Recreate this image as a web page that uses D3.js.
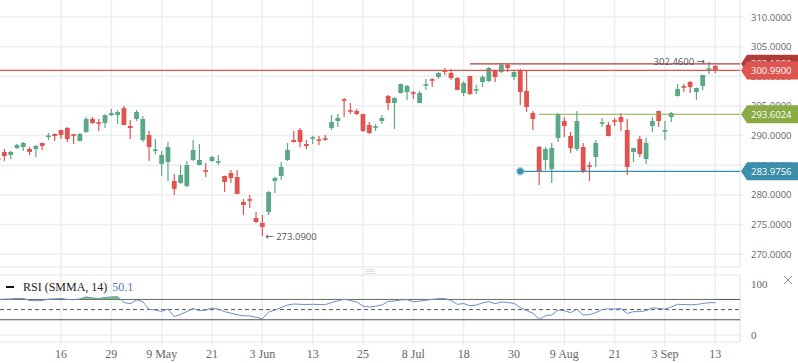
<!DOCTYPE html>
<html>
<head>
<meta charset="utf-8">
<script src="https://cdn.jsdelivr.net/npm/d3@7"></script>
<style>
  body { margin: 0; background: #fff; }
  svg { display: block; }
</style>
</head>
<body>
<div id="chart"></div>
<script>
// Data (SPY daily, 2019)
const opens = [286.10,287.24,286.73,287.91,288.08,287.74,287.74,288.75,289.85,290.27,
  290.94,291.28,290.15,289.09,290.61,292.80,292.17,292.12,293.47,293.47,
  294.65,291.62,292.80,289.26,290.10,287.50,285.21,285.55,282.35,282.01,
  281.50,285.89,285.04,284.08,285.72,285.50,283.19,283.69,283.02,278.80,
  279.20,276.11,275.26,277.12,282.35,283.19,285.89,289.26,290.94,288.58,
  289.55,289.30,289.48,291.28,292.46,296.05,294.20,294.15,293.64,291.79,
  291.40,292.46,296.68,295.50,297.18,297.35,297.23,295.50,298.48,299.43,
  299.88,301.06,300.56,299.71,297.18,300.05,297.65,299.04,299.21,301.06,
  300.73,301.91,299.88,301.06,297.52,293.81,288.08,285.89,284.37,289.60,
  292.46,289.93,287.74,288.08,284.92,286.39,292.07,291.79,292.51,293.13,
  290.94,287.24,289.43,286.05,291.62,294.15,290.73,293.13,296.68,298.25,
  299.04,297.35,298.37,301.18,301.74]
const highs = [286.30,287.74,287.40,288.58,288.92,288.08,288.42,288.85,290.44,290.35,
  291.00,291.45,290.27,290.44,293.13,293.13,292.80,293.55,294.48,294.31,
  294.99,292.63,294.31,293.30,290.78,289.43,287.40,288.92,283.53,285.04,
  285.72,289.26,288.58,285.38,286.56,286.73,283.25,284.20,284.20,279.31,
  279.98,277.12,276.61,280.66,283.02,285.55,288.75,290.78,291.28,289.26,
  289.93,289.93,290.10,293.47,293.64,296.34,295.49,294.48,293.70,292.29,
  291.96,293.47,296.85,296.51,298.75,298.53,297.52,297.52,299.55,299.71,
  300.73,301.40,301.23,299.88,299.21,300.10,298.53,300.22,301.57,301.10,
  302.24,302.07,301.06,301.23,301.06,294.15,288.25,288.08,288.75,293.81,
  293.13,290.61,294.15,288.75,285.55,289.26,292.97,292.29,292.97,293.81,
  292.80,287.95,289.93,289.60,293.13,294.20,292.46,293.98,298.70,298.70,
  299.21,298.10,300.25,302.46,301.91]
const lows = [285.80,285.72,286.05,287.74,287.40,286.73,286.39,287.57,289.26,289.09,
  289.43,288.92,288.58,289.05,290.44,291.96,290.78,291.28,293.30,291.96,
  291.75,289.43,292.46,288.92,285.72,286.90,283.19,282.35,279.98,281.84,
  281.33,285.72,285.00,283.02,285.55,285.04,280.49,282.01,280.10,276.61,
  277.79,275.26,273.09,276.61,280.32,282.51,285.72,288.85,288.08,287.74,
  288.58,288.42,289.09,290.94,291.45,293.13,293.64,293.47,290.61,290.27,
  290.78,291.96,294.31,291.11,297.10,296.00,296.17,295.45,297.69,298.20,
  299.55,300.22,299.38,297.65,296.68,296.85,297.02,298.20,299.04,299.04,
  300.56,300.73,299.38,295.16,293.98,290.94,281.67,284.20,282.01,288.92,
  289.76,287.07,287.40,283.69,282.35,284.71,291.45,289.90,291.62,290.78,
  283.36,285.55,286.39,285.21,290.61,291.45,289.26,292.29,296.60,297.35,
  297.18,296.00,297.69,300.39,300.56]
const closes = [286.00,286.56,287.24,288.42,288.75,287.24,288.25,288.25,289.93,289.93,
  290.10,289.43,290.05,290.27,292.80,292.12,292.07,293.47,293.81,293.98,
  291.79,291.28,293.98,292.80,288.08,287.57,286.73,288.08,281.00,283.36,
  285.04,287.57,285.89,283.98,286.39,285.60,282.18,282.85,280.15,278.30,
  279.10,275.43,274.59,280.49,282.85,284.71,287.57,288.92,288.92,288.25,
  289.65,289.20,289.38,292.29,292.97,295.95,294.10,293.64,290.78,290.44,
  291.50,292.97,295.50,296.34,298.70,298.37,297.13,297.18,298.58,299.33,
  300.56,300.73,299.71,297.69,298.87,297.02,297.75,299.88,301.40,299.88,
  301.91,301.40,300.73,297.35,294.82,292.80,284.03,287.74,287.91,293.64,
  291.62,287.91,292.46,284.03,284.82,288.75,292.17,289.93,292.41,292.29,
  284.71,287.91,286.90,288.75,292.46,292.46,290.83,293.81,297.86,298.15,
  298.20,298.03,300.22,301.28,300.99]
const rsiValues = [70,70.5,71,72,72,68,67.5,68,70.5,71,
  72,70,69.5,71,75,73,72,74,75,75.5,
  64,61.6,69,65.6,50.6,49,46.5,51,36,40.7,
  46,52.5,48,49,53,51,46,43,40,38,
  37.5,35,32,45,49,54,59,61,60.4,60,
  60.4,60,59.7,64,67,70.3,68,65,57,55,
  56.5,59,66,67,69,69.5,65.6,66.5,68.5,70,
  71.5,71.5,68,60.4,62,57.7,59,63,65.6,61.5,
  65,64,62.3,54,48,43,31,38,39.4,49,
  48,44,50.6,39.4,40,44,50,51.5,51,52,
  42.5,46,46,48,53.5,52.5,51,55,60.4,60,
  59.5,60,62,63.6,63.6]

const tickIndex = [10, 18, 26, 34, 42, 50, 58, 66, 74, 82, 90, 98, 106, 114]
const tickLabels = ['16', '29', '9 May', '21', '3 Jun', '13', '25', '8 Jul', '18', '30', '9 Aug', '21', '3 Sep', '13']
const priceTicks = [270, 275, 280, 285, 290, 295, 300, 305, 310]
const rsiTicks = [0, 100]

// Levels drawn on chart
const levelPrices = [302.10, 293.6024, 283.9756]
const levelStart = [75, 86, 83]
const levelLabels = ['302.1000', '293.6024', '283.9756']
const lastClose = 300.99
const highNote = 302.46
const lowNote = 273.09
const rsiLast = '50.1'

// Colors
const upColor = '#5aa886'
const downColor = '#e05450'
const gridColor = '#eceff2'
const levelColors = ['#b03c3a', '#8aab45', '#3b8fab']
const closeColor = '#e05450'
const rsiColor = '#6a8fc6'
const textColor = '#666'

// Dimensions
const width = 798
const height = 363
const plotRight = 740
const pricePaneBottom = 267
const rsiPaneTop = 275
const rsiPaneBottom = 342

const svg = d3.select('#chart')
  .append('svg')
  .attr('width', width)
  .attr('height', height)
  .style('font-family', 'Open Sans, sans-serif')

svg.append('rect').attr('width', width).attr('height', height).attr('fill', '#fff')

const x = d3.scaleLinear().domain([0, 114]).range([-1.9, 715.3])
const y = d3.scaleLinear().domain([270, 310]).range([254.2, 17])
const yRsi = d3.scaleLinear().domain([0, 100]).range([335, 284.2])

// Grid
svg.append('g')
  .selectAll('line')
  .data(tickIndex)
  .join('line')
  .attr('x1', d => x(d)).attr('x2', d => x(d))
  .attr('y1', 0).attr('y2', rsiPaneBottom + 3)
  .attr('stroke', gridColor).attr('stroke-width', 1.5)

svg.append('g')
  .selectAll('line')
  .data(priceTicks)
  .join('line')
  .attr('x1', 0).attr('x2', plotRight + 4)
  .attr('y1', d => y(d)).attr('y2', d => y(d))
  .attr('stroke', gridColor).attr('stroke-width', 1.5)

// Pane borders
svg.append('line').attr('x1', 0).attr('x2', plotRight).attr('y1', pricePaneBottom).attr('y2', pricePaneBottom)
  .attr('stroke', '#e3e6e9').attr('stroke-width', 1)
svg.append('line').attr('x1', 0).attr('x2', plotRight).attr('y1', rsiPaneTop).attr('y2', rsiPaneTop)
  .attr('stroke', '#e3e6e9').attr('stroke-width', 1)
svg.append('line').attr('x1', 0).attr('x2', plotRight).attr('y1', rsiPaneBottom).attr('y2', rsiPaneBottom)
  .attr('stroke', '#e3e6e9').attr('stroke-width', 1)
svg.append('line').attr('x1', 0).attr('x2', plotRight).attr('y1', yRsi(0)).attr('y2', yRsi(0))
  .attr('stroke', gridColor).attr('stroke-width', 1.5)
svg.append('line').attr('x1', plotRight).attr('x2', plotRight).attr('y1', 0).attr('y2', pricePaneBottom)
  .attr('stroke', '#dcdfe2').attr('stroke-width', 1)
svg.append('line').attr('x1', plotRight).attr('x2', plotRight).attr('y1', rsiPaneTop).attr('y2', rsiPaneBottom)
  .attr('stroke', '#dcdfe2').attr('stroke-width', 1)

// Pane splitter handle
svg.append('g').selectAll('line')
  .data([269.5, 271.5, 273.5])
  .join('line')
  .attr('x1', 365).attr('x2', 375)
  .attr('y1', d => d).attr('y2', d => d)
  .attr('stroke', '#d0d3d6').attr('stroke-width', 0.8)

// Price axis labels
svg.append('g')
  .selectAll('text')
  .data(priceTicks)
  .join('text')
  .attr('x', 751).attr('y', d => y(d) + 3.5)
  .attr('font-size', 9.5)
  .attr('fill', textColor)
  .text(d => d.toFixed(4))

// Candles
const candles = svg.append('g')
opens.forEach((o, i) => {
  const c = closes[i]
  const col = c >= o ? upColor : downColor
  const cx = x(i)
  candles.append('line')
    .attr('x1', cx).attr('x2', cx)
    .attr('y1', y(highs[i])).attr('y2', y(lows[i]))
    .attr('stroke', col).attr('stroke-width', 1.2)
  const top = y(Math.max(o, c))
  const h = Math.max(1.6, y(Math.min(o, c)) - top)
  candles.append('rect')
    .attr('x', cx - 2.4).attr('width', 4.8)
    .attr('y', h === 1.6 ? (top + y(Math.min(o, c))) / 2 - 0.8 : top)
    .attr('height', h)
    .attr('fill', col)
})

// Level lines
levelPrices.forEach((p, k) => {
  svg.append('line')
    .attr('x1', x(levelStart[k])).attr('x2', plotRight)
    .attr('y1', y(p)).attr('y2', y(p))
    .attr('stroke', levelColors[k]).attr('stroke-width', 1.2)
})
svg.append('line')
  .attr('x1', 0).attr('x2', plotRight)
  .attr('y1', y(lastClose)).attr('y2', y(lastClose))
  .attr('stroke', closeColor).attr('stroke-width', 1.2)

svg.append('circle')
  .attr('cx', x(levelStart[2])).attr('cy', y(levelPrices[2]))
  .attr('r', 4.5).attr('fill', levelColors[2]).attr('opacity', 0.35)
svg.append('circle')
  .attr('cx', x(levelStart[2])).attr('cy', y(levelPrices[2]))
  .attr('r', 3).attr('fill', levelColors[2])

// Label boxes
function labelBox(p, txt, col) {
  const cy = y(p)
  svg.append('path')
    .attr('d', `M741,${cy} L747,${cy - 9} L798,${cy - 9} L798,${cy + 9} L747,${cy + 9} Z`)
    .attr('fill', col)
  svg.append('text')
    .attr('x', 751).attr('y', cy + 3.5)
    .attr('font-size', 9.5)
    .attr('fill', '#fff')
    .text(txt)
}
levelPrices.forEach((p, k) => labelBox(p, levelLabels[k], levelColors[k]))
labelBox(lastClose, lastClose.toFixed(4), closeColor)

// High / low notes
const hi = svg.append('text')
  .attr('x', x(113) - 4).attr('y', y(highNote) + 3)
  .attr('text-anchor', 'end')
  .attr('font-size', 9.5).attr('fill', '#555')
hi.append('tspan').text(highNote.toFixed(4) + ' ')
hi.append('tspan').attr('font-family', 'DejaVu Sans, sans-serif').attr('font-size', 10).text('\u2192')

const lo = svg.append('text')
  .attr('x', x(42) + 3).attr('y', y(lowNote) + 4)
  .attr('font-size', 9.5).attr('fill', '#555')
lo.append('tspan').attr('font-family', 'DejaVu Sans, sans-serif').attr('font-size', 10).text('\u2190')
lo.append('tspan').text(' ' + lowNote.toFixed(4))

// RSI levels
svg.append('g').selectAll('line')
  .data([70, 30])
  .join('line')
  .attr('x1', 0).attr('x2', plotRight)
  .attr('y1', d => yRsi(d)).attr('y2', d => yRsi(d))
  .attr('stroke', '#555').attr('stroke-width', 1)
svg.append('line')
  .attr('x1', 0).attr('x2', plotRight)
  .attr('y1', yRsi(50)).attr('y2', yRsi(50))
  .attr('stroke', '#555').attr('stroke-width', 1)
  .attr('stroke-dasharray', '4,3')

// RSI overbought fill
svg.append('clipPath').attr('id', 'ob')
  .append('rect').attr('x', 0).attr('y', 0).attr('width', plotRight).attr('height', yRsi(70))
svg.append('path')
  .datum(rsiValues)
  .attr('clip-path', 'url(#ob)')
  .attr('fill', '#79c86f')
  .attr('d', d3.area().x((d, i) => x(i)).y0(yRsi(70)).y1(d => yRsi(d)))

svg.append('path')
  .datum(rsiValues)
  .attr('fill', 'none')
  .attr('stroke', rsiColor).attr('stroke-width', 1)
  .attr('d', d3.line().x((d, i) => x(i)).y(d => yRsi(d)))

// RSI axis
svg.append('g').selectAll('text')
  .data(rsiTicks)
  .join('text')
  .attr('x', 751).attr('y', d => yRsi(d) + 4)
  .attr('font-family', 'Liberation Serif, serif')
  .attr('font-size', 11).attr('fill', textColor)
  .text(d => d)

// RSI legend
svg.append('line').attr('x1', 6).attr('x2', 14).attr('y1', 287).attr('y2', 287)
  .attr('stroke', '#111').attr('stroke-width', 2)
const leg = svg.append('text')
  .attr('x', 23).attr('y', 291)
  .attr('font-family', 'Liberation Serif, serif')
  .attr('font-size', 12).attr('fill', '#222')
leg.append('tspan').text('RSI (SMMA, 14)')
leg.append('tspan').attr('dx', 5).attr('fill', '#4a78b8').text(rsiLast)

// Close icon
svg.append('path')
  .attr('d', 'M784,276 L792,284 M792,276 L784,284')
  .attr('stroke', '#888').attr('stroke-width', 1)

// X axis labels
svg.append('g').selectAll('text')
  .data(tickIndex)
  .join('text')
  .attr('x', d => x(d)).attr('y', 358)
  .attr('text-anchor', 'middle')
  .attr('font-family', 'Liberation Serif, serif')
  .attr('font-size', 12).attr('fill', textColor)
  .text((d, i) => tickLabels[i])
</script>
</body>
</html>
